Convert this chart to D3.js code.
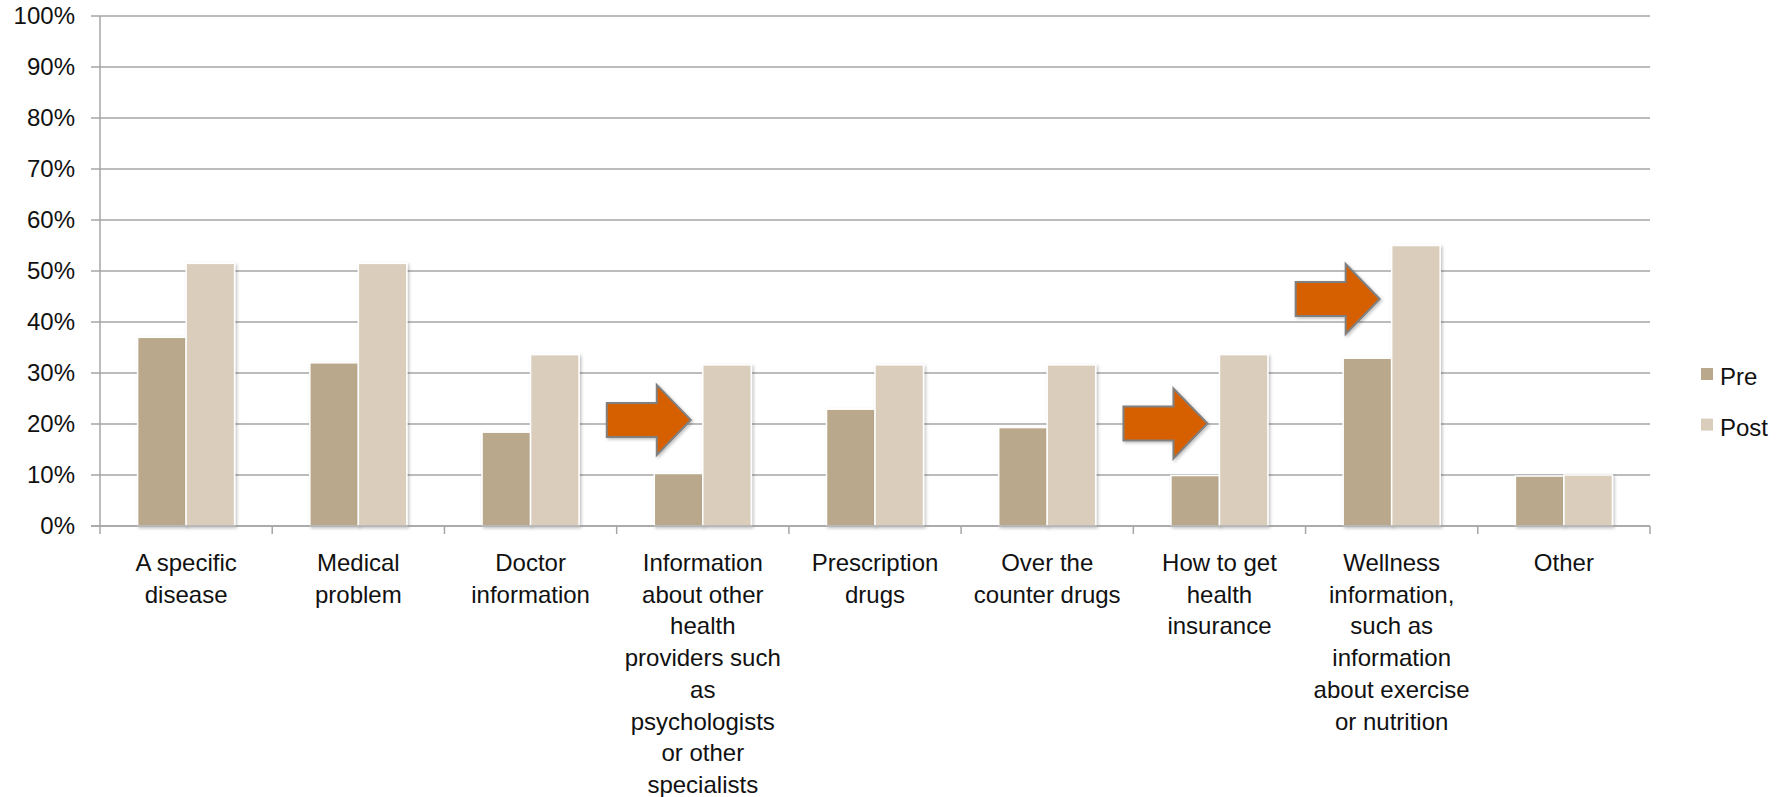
<!DOCTYPE html>
<html>
<head>
<meta charset="utf-8">
<script src="https://cdn.jsdelivr.net/npm/d3@7"></script>
<style>
  body { margin: 0; background: #fff; }
  text { font-family: "Liberation Sans", Arial, sans-serif; fill: #111; }
</style>
</head>
<body>
<div id="viz"></div>
<script>
// category labels, already broken into lines as in the original
const categories = [
    ["A specific", "disease"],
    ["Medical", "problem"],
    ["Doctor", "information"],
    ["Information", "about other", "health", "providers such", "as", "psychologists", "or other", "specialists"],
    ["Prescription", "drugs"],
    ["Over the", "counter drugs"],
    ["How to get", "health", "insurance"],
    ["Wellness", "information,", "such as", "information", "about exercise", "or nutrition"],
    ["Other"]
];
const seriesNames = ["Pre", "Post"];
const preValues = [37.0, 32.0, 18.4, 10.3, 22.9, 19.3, 9.9, 32.9, 9.8];
const postValues = [51.5, 51.5, 33.6, 31.6, 31.6, 31.6, 33.6, 55.0, 10.0];
const yTicks = [0, 10, 20, 30, 40, 50, 60, 70, 80, 90, 100];
// arrows: which category they point at and at what value level
const arrowCats = [3, 6, 7];
const arrowValues = [20.8, 20.1, 44.5];

const width = 1783;
const height = 797;
const plotLeft = 100, plotRight = 1650, plotTop = 16, plotBottom = 526;

const colors = { Pre: "#b9a88b", Post: "#dacdbb" };

const svg = d3.select("#viz").append("svg")
    .attr("width", width)
    .attr("height", height);

const defs = svg.append("defs");
const shadow = defs.append("filter").attr("id", "shadow")
    .attr("x", "-20%").attr("y", "-20%").attr("width", "150%").attr("height", "150%");
shadow.append("feDropShadow")
    .attr("dx", 1.5).attr("dy", 1.5).attr("stdDeviation", 1.5)
    .attr("flood-color", "#000").attr("flood-opacity", 0.25);

const x0 = d3.scaleBand()
    .domain(d3.range(categories.length))
    .range([plotLeft, plotRight])
    .padding(0);

const groupW = 97;
const x1 = d3.scaleBand()
    .domain(seriesNames)
    .range([(x0.bandwidth() - groupW) / 2, (x0.bandwidth() + groupW) / 2]);

const y = d3.scaleLinear()
    .domain([0, 100])
    .range([plotBottom, plotTop]);

// gridlines
svg.append("g")
    .selectAll("line")
    .data(yTicks)
    .enter()
    .append("line")
    .attr("x1", plotLeft - 9)
    .attr("x2", plotRight)
    .attr("y1", d => y(d))
    .attr("y2", d => y(d))
    .attr("stroke", "#a6a6a6")
    .attr("stroke-width", 1.5);

// y axis line
svg.append("line")
    .attr("x1", plotLeft).attr("x2", plotLeft)
    .attr("y1", y(100)).attr("y2", y(0))
    .attr("stroke", "#a6a6a6")
    .attr("stroke-width", 1.5);

// y labels
svg.append("g")
    .selectAll("text")
    .data(yTicks)
    .enter()
    .append("text")
    .attr("x", 75)
    .attr("y", d => y(d))
    .attr("dy", "0.35em")
    .attr("text-anchor", "end")
    .attr("font-size", "24px")
    .text(d => d + "%");

// x axis ticks at category boundaries
const boundaries = d3.range(categories.length + 1).map(i => plotLeft + i * x0.step());
svg.append("g")
    .selectAll("line")
    .data(boundaries)
    .enter()
    .append("line")
    .attr("x1", d => d).attr("x2", d => d)
    .attr("y1", y(0)).attr("y2", y(0) + 8)
    .attr("stroke", "#a6a6a6")
    .attr("stroke-width", 1.5);

// bars
const groups = svg.append("g")
    .selectAll("g")
    .data(categories.map((c, i) => ({ i: i, Pre: preValues[i], Post: postValues[i] })))
    .enter()
    .append("g")
    .attr("transform", d => "translate(" + x0(d.i) + ",0)");

groups.selectAll("rect")
    .data(d => seriesNames.map(s => ({ key: s, value: d[s] })))
    .enter()
    .append("rect")
    .attr("x", d => x1(d.key))
    .attr("width", x1.bandwidth())
    .attr("y", d => y(d.value))
    .attr("height", d => y(0) - y(d.value))
    .attr("fill", d => colors[d.key])
    .attr("stroke", "#fff")
    .attr("stroke-width", 1.5)
    .attr("filter", "url(#shadow)");

// redraw x axis line above bars
svg.append("line")
    .attr("x1", plotLeft - 9).attr("x2", plotRight)
    .attr("y1", y(0)).attr("y2", y(0))
    .attr("stroke", "#a6a6a6")
    .attr("stroke-width", 1.5);

// category labels
const labels = svg.append("g")
    .selectAll("text")
    .data(categories)
    .enter()
    .append("text")
    .attr("text-anchor", "middle")
    .attr("font-size", "24px")
    .attr("transform", (d, i) => "translate(" + (x0(i) + x0.bandwidth() / 2) + "," + 571 + ")");

labels.selectAll("tspan")
    .data(d => d)
    .enter()
    .append("tspan")
    .attr("x", 0)
    .attr("y", (d, i) => i * 31.7)
    .text(d => d);

// arrows
function arrowPath() {
    // tip at (0,0)
    return "M0,0 L-34,-35 L-34,-17 L-84,-17 L-84,17 L-34,17 L-34,35 Z";
}

svg.append("g")
    .selectAll("path")
    .data(arrowCats.map((c, i) => ({ cat: c, value: arrowValues[i] })))
    .enter()
    .append("path")
    .attr("d", arrowPath())
    .attr("transform", d => "translate(" + (x0(d.cat) + x1("Post") - 12) + "," + y(d.value) + ")")
    .attr("fill", "#d65f00")
    .attr("stroke", "#808080")
    .attr("stroke-width", 2)
    .attr("stroke-linejoin", "miter")
    .attr("filter", "url(#shadow)");

// legend
const legend = svg.append("g")
    .selectAll("g")
    .data(seriesNames)
    .enter()
    .append("g")
    .attr("transform", (d, i) => "translate(1701," + (368 + i * 50.6) + ")");

legend.append("rect")
    .attr("width", 12)
    .attr("height", 12)
    .attr("fill", d => colors[d]);

legend.append("text")
    .attr("x", 19)
    .attr("y", 17)
    .attr("font-size", "24px")
    .text(d => d);
</script>
</body>
</html>
